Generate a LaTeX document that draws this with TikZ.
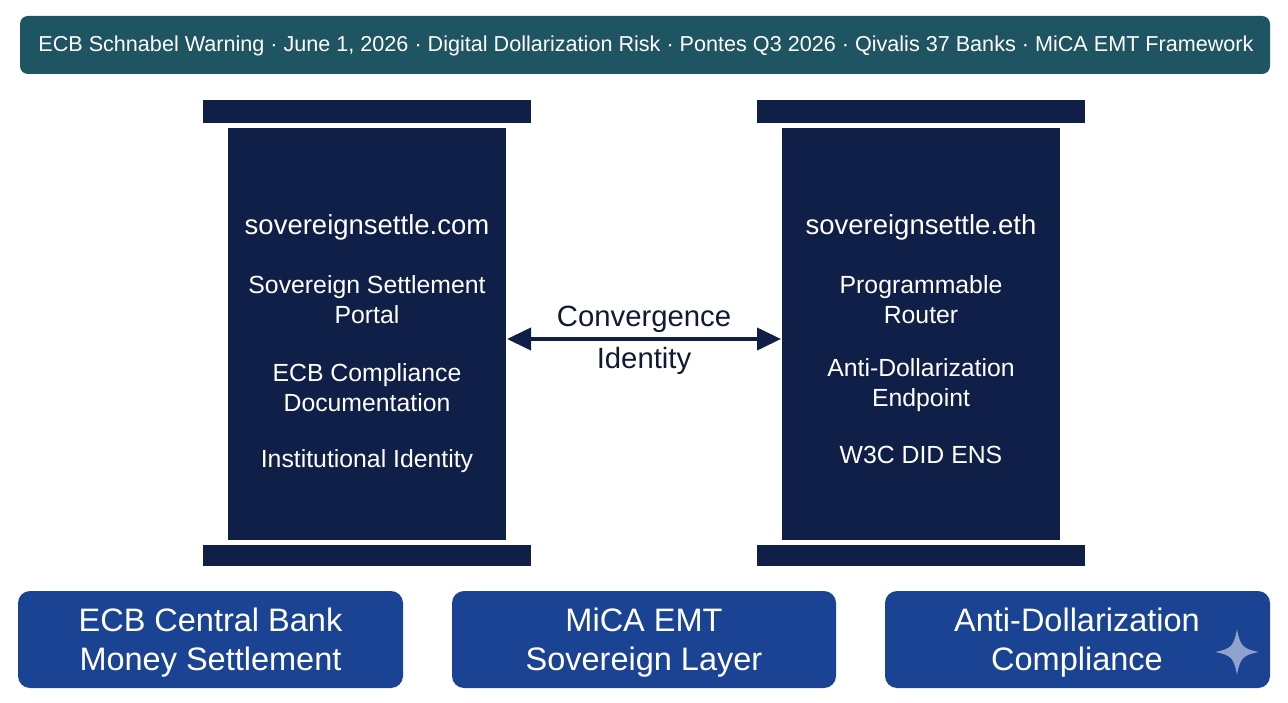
\documentclass[tikz,border=0pt]{standalone}
\usepackage{fontspec}
\setmainfont{Liberation Sans}
\usetikzlibrary{arrows.meta}
\definecolor{teal}{HTML}{1F5462}
\definecolor{navy}{HTML}{0F1F48}
\definecolor{royal}{HTML}{1B4393}
\definecolor{spark}{HTML}{8FA2CB}
\definecolor{ink}{HTML}{111A33}
\tikzset{
  bar/.style={fill=navy, draw=none},
  pillartext/.style={text=white, align=center, font=\fontsize{24.8}{30}\selectfont},
  pillarhead/.style={text=white, align=center, font=\fontsize{27.5}{30}\selectfont},
  basebox/.style={fill=royal, rounded corners=12pt, draw=none},
  basetext/.style={text=white, align=center, font=\fontsize{32.5}{39}\selectfont},
  midtext/.style={text=ink, font=\fontsize{29.3}{32}\selectfont},
}
\begin{document}
\begin{tikzpicture}[x=1pt,y=-1pt]
\useasboundingbox (0,0) rectangle (1288,703);
\fill[white] (0,0) rectangle (1288,703);
% banner
\fill[teal, rounded corners=8pt] (20,16) rectangle (1270,74);
\node[text=white, font=\fontsize{21.6}{24}\selectfont] (banner) at (646,46) {ECB Schnabel Warning · June 1, 2026 · Digital Dollarization Risk · Pontes Q3 2026 · Qivalis 37 Banks · MiCA EMT Framework};
% left pillar
\fill[bar] (203,100) rectangle (531,123);
\fill[bar] (228,128) rectangle (506,540);
\fill[bar] (203,545) rectangle (531,566);
\coordinate (Lr) at (507,339);
\node[pillarhead] (l1) at (367,227) {sovereignsettle.com};
\node[pillartext] (l2) at (367,300) {Sovereign Settlement\\Portal};
\node[pillartext] (l3) at (367,388) {ECB Compliance\\Documentation};
\node[pillartext] (l4) at (367,461) {Institutional Identity};
% right pillar
\fill[bar] (757,100) rectangle (1085,123);
\fill[bar] (782,128) rectangle (1060,540);
\fill[bar] (757,545) rectangle (1085,566);
\coordinate (Rl) at (781,339);
\node[pillarhead] (r1) at (921,227) {sovereignsettle.eth};
\node[pillartext] (r2) at (921,300) {Programmable\\Router};
\node[pillartext] (r3) at (921,385) {Anti-Dollarization\\Endpoint};
\node[pillartext] (r4) at (921,455) {W3C DID ENS};
% arrow
\draw[navy, line width=4pt, {Triangle[length=24pt,width=22pt]}-{Triangle[length=24pt,width=22pt]}] (Lr) -- (Rl);
\node[midtext] (conv) at (644,319) {Convergence};
\node[midtext] (ident) at (644,361) {Identity};
% bottom boxes
\fill[basebox] (18,591) rectangle (403,688);
\node[basetext] (b1) at (210.5,643) {ECB Central Bank\\Money Settlement};
\fill[basebox] (452,591) rectangle (836,688);
\node[basetext] (b2) at (644,643) {MiCA EMT\\Sovereign Layer};
\fill[basebox] (885,591) rectangle (1270,688);
\node[basetext] (b3) at (1077,643) {Anti-Dollarization\\Compliance};
% sparkle
\fill[spark] (1237,629) .. controls (1240,646) and (1243,649) .. (1259,652)
  .. controls (1243,655) and (1240,658) .. (1237,675)
  .. controls (1234,658) and (1231,655) .. (1215,652)
  .. controls (1231,649) and (1234,646) .. (1237,629) -- cycle;
\end{tikzpicture}
\end{document}
